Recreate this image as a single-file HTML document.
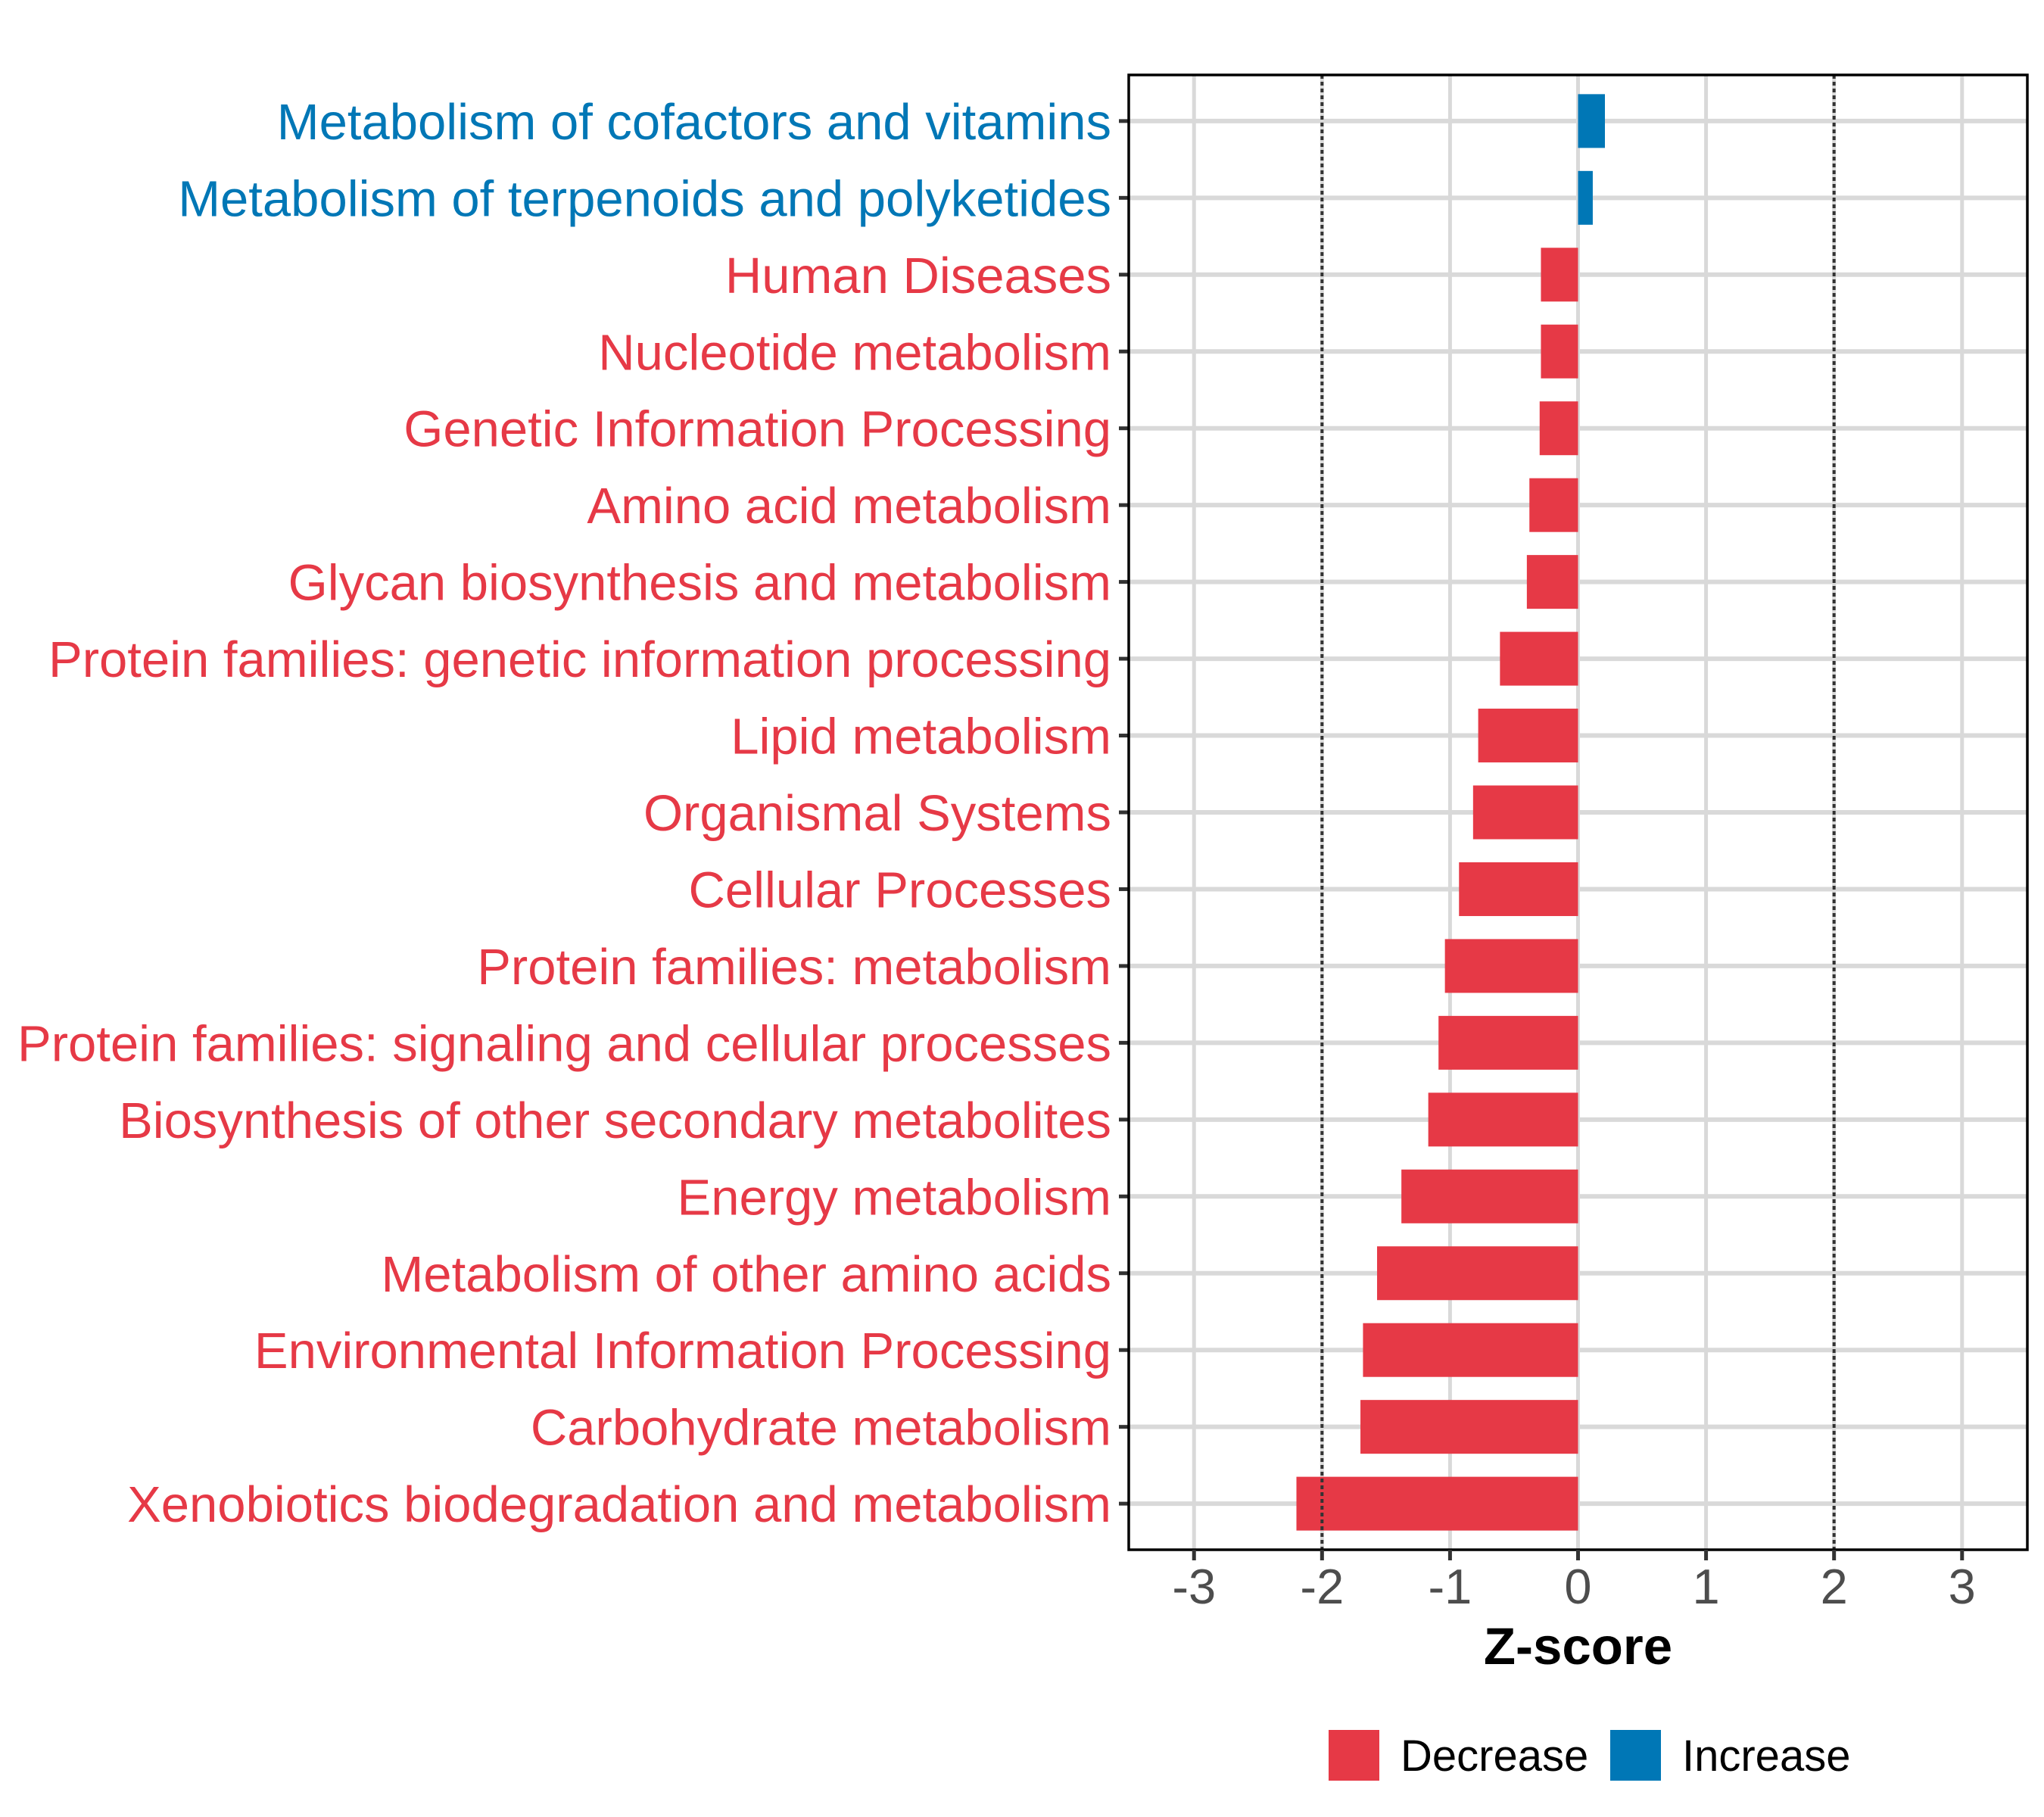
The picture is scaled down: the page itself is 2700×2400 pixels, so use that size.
<!DOCTYPE html>
<html><head><meta charset="utf-8"><style>
html,body{margin:0;padding:0;background:#fff}
svg{display:block;font-family:"Liberation Sans",Arial,sans-serif}
</style></head><body>
<svg id="chart" width="2700" height="2400" viewBox="0 0 2700 2400" xmlns="http://www.w3.org/2000/svg">
<rect width="2700" height="2400" fill="#fff"/>
<g id="grid"></g><g id="bars"></g><g id="axes"></g>
</svg>
<script>
const categories = ["Metabolism of cofactors and vitamins","Metabolism of terpenoids and polyketides","Human Diseases","Nucleotide metabolism","Genetic Information Processing","Amino acid metabolism","Glycan biosynthesis and metabolism","Protein families: genetic information processing","Lipid metabolism","Organismal Systems","Cellular Processes","Protein families: metabolism","Protein families: signaling and cellular processes","Biosynthesis of other secondary metabolites","Energy metabolism","Metabolism of other amino acids","Environmental Information Processing","Carbohydrate metabolism","Xenobiotics biodegradation and metabolism"];
const zscores = [0.21,0.115,-0.29,-0.29,-0.30,-0.38,-0.40,-0.61,-0.78,-0.82,-0.93,-1.04,-1.09,-1.17,-1.38,-1.57,-1.68,-1.70,-2.20];
const xTicks = [-3,-2,-1,0,1,2,3];
const xTickLabels = ["-3","-2","-1","0","1","2","3"];
const thresholds = [-2,2];

const NS="http://www.w3.org/2000/svg";
const L=1491,R=2678,T=99,B=2047;
const xMin=-3.51,xMax=3.51;
const RED="#E63946",BLUE="#0077B6";
function xs(v){return L+(v-xMin)/(xMax-xMin)*(R-L);}
function ys(i){const n=categories.length;const step=(B-T)/(n+0.2);return T+step*(0.6+i);}
const step=(B-T)/(categories.length+0.2);
function mk(tag,attrs,parent,text){const e=document.createElementNS(NS,tag);for(const k in attrs)e.setAttribute(k,attrs[k]);if(text!==undefined)e.textContent=text;parent.appendChild(e);return e;}
const grid=document.getElementById('grid'),bars=document.getElementById('bars'),axes=document.getElementById('axes');
xTicks.forEach((t,i)=>{
  const g=mk('line',{x1:xs(t),x2:xs(t),y1:T,y2:B,stroke:'#d9d9d9','stroke-width':5},grid);
  
  
});
categories.forEach((c,i)=>{
  const g=mk('line',{x1:L,x2:R,y1:ys(i),y2:ys(i),stroke:'#d9d9d9','stroke-width':6},grid);
  
  
});
categories.forEach((c,i)=>{
  const v=zscores[i];const col=v>=0?BLUE:RED;
  const x0=xs(Math.min(0,v)),x1=xs(Math.max(0,v));
  const b=mk('rect',{x:x0,y:ys(i)-step*0.35,width:x1-x0,height:step*0.7,fill:col},bars);
  
  
  const lab=mk('text',{x:1468,y:ys(i)+24,'text-anchor':'end','font-size':67,fill:col},axes,c);
  
  
  const tk=mk('line',{x1:L-13,x2:L,y1:ys(i),y2:ys(i),stroke:'#333','stroke-width':5},axes);
  
  
});
thresholds.forEach(t=>{
  const d=mk('line',{x1:xs(t),x2:xs(t),y1:T,y2:B,stroke:'#333','stroke-width':4,'stroke-dasharray':'5,4'},bars);
  
  
});
const fr=mk('rect',{x:L,y:T,width:R-L,height:B-T,fill:'none',stroke:'#000','stroke-width':3.5},axes);


xTicks.forEach((t,i)=>{
  const tk=mk('line',{x1:xs(t),x2:xs(t),y1:B,y2:B+14,stroke:'#333','stroke-width':5},axes);
  
  
  const lb=mk('text',{x:xs(t),y:2118,'text-anchor':'middle','font-size':65,fill:'#4d4d4d'},axes,xTickLabels[i]);
  
  
});
const xt=mk('text',{x:xs(0),y:2198,'text-anchor':'middle','font-size':69,'font-weight':'bold',fill:'#000'},axes,'Z-score');


const lg=mk('g',{},axes);


const s1=mk('rect',{x:1755,y:2285,width:67,height:67,fill:RED},lg);


const t1=mk('text',{x:1850,y:2339,'font-size':58,fill:'#000'},lg,'Decrease');


const s2=mk('rect',{x:2127,y:2285,width:67,height:67,fill:BLUE},lg);


const t2=mk('text',{x:2222,y:2339,'font-size':58,fill:'#000'},lg,'Increase');


</script>
</body></html>
